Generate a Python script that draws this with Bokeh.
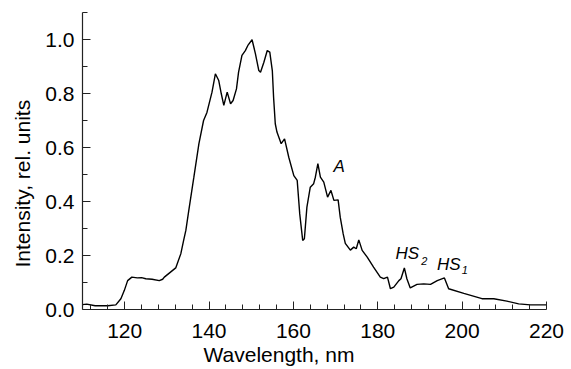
from bokeh.plotting import figure
from bokeh.models import Range1d, FixedTicker, Label, PrintfTickFormatter, Title
from bokeh.embed import file_html
from bokeh.resources import INLINE

# Spectrum
wavelength = [110.0, 111.0, 113.0, 116.0, 117.9, 119.1, 119.9, 120.7, 121.7, 123.0,
              124.0, 125.0, 126.5, 128.2, 129.0, 129.4, 131.3, 132.1, 133.3, 134.0,
              134.5, 135.2, 136.4, 137.6, 138.7, 139.5, 140.7, 141.5, 142.3, 142.9,
              143.5, 144.3, 145.1, 145.7, 146.5, 147.0, 147.8, 148.6, 149.2, 150.2,
              151.0, 151.8, 152.2, 153.0, 153.8, 154.4, 155.0, 155.3, 155.7, 156.1,
              157.1, 157.9, 158.9, 160.1, 160.9, 161.5, 162.2, 162.6, 163.2, 164.0,
              164.8, 165.2, 165.8, 166.4, 167.2, 168.1, 168.9, 169.6, 170.6, 171.1,
              171.8, 172.3, 173.5, 174.3, 174.9, 175.5, 176.3, 177.5, 179.0, 180.6,
              181.4, 182.3, 183.0, 183.8, 185.0, 185.5, 186.3, 186.9, 187.7, 189.3,
              190.9, 192.5, 194.1, 195.8, 196.8, 200.4, 204.7, 207.5, 210.6, 213.4,
              216.2, 220.0]
intensity = [0.018, 0.020, 0.014, 0.014, 0.017, 0.040, 0.070, 0.107, 0.120, 0.117,
             0.118, 0.114, 0.112, 0.107, 0.112, 0.120, 0.144, 0.154, 0.206, 0.258,
             0.293, 0.367, 0.490, 0.614, 0.700, 0.730, 0.805, 0.873, 0.848, 0.799,
             0.756, 0.805, 0.762, 0.774, 0.817, 0.879, 0.941, 0.959, 0.978, 0.999,
             0.947, 0.885, 0.879, 0.916, 0.959, 0.953, 0.885, 0.786, 0.688, 0.657,
             0.614, 0.632, 0.564, 0.496, 0.478, 0.354, 0.256, 0.262, 0.379, 0.453,
             0.466, 0.490, 0.540, 0.490, 0.472, 0.416, 0.441, 0.404, 0.406, 0.342,
             0.280, 0.245, 0.220, 0.231, 0.225, 0.258, 0.219, 0.194, 0.157, 0.120,
             0.114, 0.120, 0.077, 0.083, 0.107, 0.114, 0.154, 0.114, 0.080, 0.093,
             0.095, 0.093, 0.107, 0.117, 0.077, 0.060, 0.040, 0.040, 0.031, 0.021,
             0.017, 0.017]

x_major = [120, 140, 160, 180, 200, 220]
x_minor = [v for v in range(112, 221, 4) if v % 20 != 0]
y_major = [0.0, 0.2, 0.4, 0.6, 0.8, 1.0]
y_minor = [0.1, 0.3, 0.5, 0.7, 0.9, 1.1]

x_title = "Wavelength, nm"
y_title = "Intensity, rel. units"

# annotation texts: (text, x, y, size)
annotations = [
    ("A", 169.5, 0.530, "17px"),
    ("HS", 184.2, 0.206, "17px"),
    ("2", 190.3, 0.178, "11px"),
    ("HS", 194.05, 0.167, "17px"),
    ("1", 199.9, 0.146, "11px"),
]

FONT = "Liberation Sans"

p = figure(width=571, height=369, output_backend="svg", toolbar_location=None,
           x_range=Range1d(110, 220), y_range=Range1d(0, 1.1),
           min_border_left=82, min_border_right=25, min_border_top=12,
           min_border_bottom=60)
p.outline_line_color = None
p.xgrid.visible = False
p.ygrid.visible = False
p.background_fill_color = "white"
p.border_fill_color = "white"

p.line(wavelength, intensity, line_color="black", line_width=1.4)

for ax in (p.xaxis[0], p.yaxis[0]):
    ax.axis_line_color = "#222222"
    ax.axis_line_width = 1.2
    ax.major_tick_line_color = "#222222"
    ax.minor_tick_line_color = "#222222"
    ax.major_tick_in = 8
    ax.major_tick_out = 0
    ax.minor_tick_in = 5
    ax.minor_tick_out = 0
    ax.major_label_text_font = FONT
    ax.major_label_text_font_size = "21px"
    ax.major_label_text_color = "black"

p.xaxis[0].ticker = FixedTicker(ticks=x_major, minor_ticks=x_minor)
p.yaxis[0].ticker = FixedTicker(ticks=y_major, minor_ticks=y_minor)
p.yaxis[0].formatter = PrintfTickFormatter(format="%.1f")
p.xaxis[0].major_label_standoff = 14
p.yaxis[0].major_label_standoff = 8

# axis titles as side titles so they can sit off-centre like the reference
p.add_layout(Title(text=x_title, align="left", offset=121, standoff=0,
                   text_font=FONT, text_font_size="21px", text_font_style="normal",
                   text_color="black"), "below")
p.add_layout(Title(text=y_title, align="left", offset=42, standoff=17,
                   text_font=FONT, text_font_size="21px", text_font_style="normal",
                   text_color="black"), "left")

for txt, ax_, ay_, size in annotations:
    p.add_layout(Label(x=ax_, y=ay_, text=txt, text_align="left",
                       text_baseline="alphabetic", text_font=FONT,
                       text_font_style="italic", text_font_size=size,
                       text_color="black"))

open("out.html", "w").write(file_html(p, INLINE))
